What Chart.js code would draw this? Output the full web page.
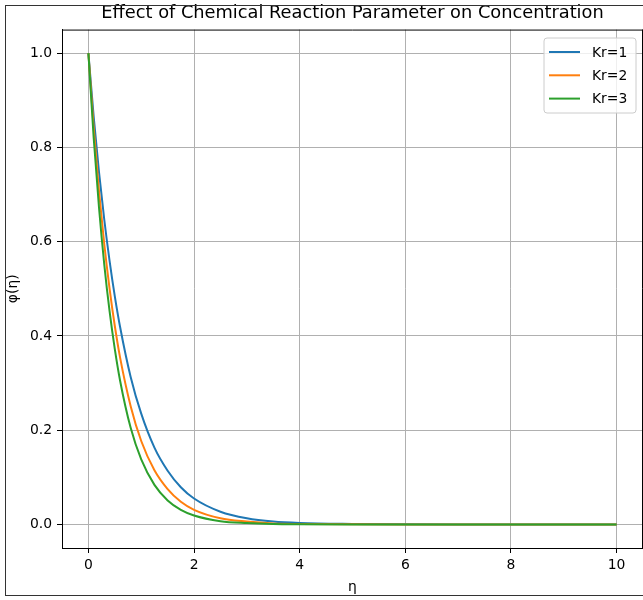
<!DOCTYPE html>
<html>
<head>
<meta charset="utf-8">
<script src="https://cdn.jsdelivr.net/npm/chart.js@4.4.0/dist/chart.umd.min.js"></script>
<style>
  body { margin: 0; background: #fff; }
  canvas { display: block; }
</style>
</head>
<body>
<canvas id="chart" width="643" height="600"></canvas>
<script>
// values
var etaValues = [0, 0.1, 0.2, 0.3, 0.4, 0.5, 0.6, 0.8, 1.0, 1.25, 1.5, 1.75, 2, 2.5, 3, 3.5, 4, 5, 6, 7, 8, 9, 10];
var phiKr1 = [1.0, 0.865, 0.748, 0.647, 0.560, 0.484, 0.419, 0.313, 0.235, 0.163, 0.114, 0.079, 0.055, 0.027, 0.013, 0.006, 0.003, 0.001, 0.0002, 0, 0, 0, 0];
var phiKr2 = [1.0, 0.841, 0.708, 0.595, 0.501, 0.421, 0.354, 0.251, 0.177, 0.115, 0.075, 0.048, 0.031, 0.013, 0.006, 0.002, 0.001, 0.0002, 0, 0, 0, 0, 0];
var phiKr3 = [1.0, 0.820, 0.673, 0.552, 0.453, 0.372, 0.305, 0.205, 0.138, 0.084, 0.051, 0.031, 0.019, 0.007, 0.003, 0.001, 0.0004, 0, 0, 0, 0, 0, 0];
var seriesLabels = ['Kr=1', 'Kr=2', 'Kr=3'];
var seriesColors = ['#1f77b4', '#ff7f0e', '#2ca02c'];
var xTicks = [0, 2, 4, 6, 8, 10];
var yTicks = [0, 0.2, 0.4, 0.6, 0.8, 1.0];

var FONT = "'DejaVu Sans', sans-serif";

function toPoints(ys) {
    return etaValues.map(function(x, i) { return {x: x, y: ys[i]}; });
}

var allSeries = [phiKr1, phiKr2, phiKr3];
var datasets = allSeries.map(function(ys, i) {
    return {
        label: seriesLabels[i],
        data: toPoints(ys),
        borderColor: seriesColors[i],
        backgroundColor: seriesColors[i],
        borderWidth: 2,
        pointRadius: 0,
        fill: false,
        cubicInterpolationMode: 'monotone',
        order: 3 - i
    };
});

// white background, frame round the figure, top/right spines and legend box
var decorations = {
    id: 'decorations',
    beforeDraw: function(chart) {
        var ctx = chart.ctx;
        ctx.save();
        ctx.fillStyle = '#fff';
        ctx.fillRect(0, 0, chart.width, chart.height);
        ctx.restore();
    },
    afterDraw: function(chart) {
        var ctx = chart.ctx;
        var a = chart.chartArea;
        ctx.save();
        // spines
        ctx.strokeStyle = '#000';
        ctx.lineWidth = 1;
        ctx.beginPath();
        ctx.moveTo(a.left, a.top + 0.5);
        ctx.lineTo(a.right, a.top + 0.5);
        ctx.moveTo(a.right - 0.5, a.top);
        ctx.lineTo(a.right - 0.5, a.bottom);
        ctx.stroke();

        // figure frame
        ctx.strokeStyle = '#333';
        ctx.strokeRect(5.5, 5.5, 700, 590);

        // legend
        var bx = 544, by = 38, bw = 92, bh = 75, r = 3;
        ctx.beginPath();
        ctx.moveTo(bx + r, by);
        ctx.lineTo(bx + bw - r, by);
        ctx.quadraticCurveTo(bx + bw, by, bx + bw, by + r);
        ctx.lineTo(bx + bw, by + bh - r);
        ctx.quadraticCurveTo(bx + bw, by + bh, bx + bw - r, by + bh);
        ctx.lineTo(bx + r, by + bh);
        ctx.quadraticCurveTo(bx, by + bh, bx, by + bh - r);
        ctx.lineTo(bx, by + r);
        ctx.quadraticCurveTo(bx, by, bx + r, by);
        ctx.closePath();
        ctx.fillStyle = 'rgba(255,255,255,0.8)';
        ctx.fill();
        ctx.strokeStyle = '#cccccc';
        ctx.lineWidth = 1;
        ctx.stroke();

        ctx.font = '13.9px ' + FONT;
        ctx.textBaseline = 'middle';
        ctx.textAlign = 'left';
        chart.data.datasets.forEach(function(ds, i) {
            var y = 52 + i * 23.3;
            ctx.strokeStyle = ds.borderColor;
            ctx.lineWidth = 2;
            ctx.beginPath();
            ctx.moveTo(549, y);
            ctx.lineTo(580, y);
            ctx.stroke();
            ctx.fillStyle = '#000';
            ctx.fillText(ds.label, 592, y + 1);
        });
        ctx.restore();
    }
};

var chart = new Chart(document.getElementById('chart'), {
    type: 'line',
    data: { datasets: datasets },
    options: {
        responsive: false,
        animation: false,
        layout: { padding: 0 },
        plugins: {
            legend: { display: false },
            tooltip: { enabled: false },
            title: {
                display: true,
                fullSize: false,
                text: 'Effect of Chemical Reaction Parameter on Concentration',
                color: '#000',
                font: { family: FONT, size: 17.8, weight: 'normal', lineHeight: 1.1 },
                padding: { top: 4, bottom: 6 }
            }
        },
        scales: {
            x: {
                type: 'linear',
                min: -0.5,
                max: 10.5,
                afterBuildTicks: function(scale) {
                    scale.ticks = xTicks.map(function(v) { return {value: v}; });
                },
                afterFit: function(scale) { scale.height = 52; },
                ticks: {
                    color: '#000',
                    font: { family: FONT, size: 13.9 },
                    padding: 4,
                    maxRotation: 0,
                    callback: function(v) { return String(v); }
                },
                grid: { color: '#b0b0b0', lineWidth: 1, tickColor: '#000', tickLength: 5 },
                border: { display: true, color: '#000', width: 1 },
                title: {
                    display: true,
                    text: 'η',
                    color: '#000',
                    font: { family: FONT, size: 13.9 },
                    padding: { top: 0, bottom: 4 }
                }
            },
            y: {
                type: 'linear',
                min: -0.05,
                max: 1.05,
                afterBuildTicks: function(scale) {
                    scale.ticks = yTicks.map(function(v) { return {value: v}; });
                },
                afterFit: function(scale) { scale.width = 62; },
                ticks: {
                    color: '#000',
                    font: { family: FONT, size: 13.9 },
                    padding: 5,
                    callback: function(v) { return v.toFixed(1); }
                },
                grid: { color: '#b0b0b0', lineWidth: 1, tickColor: '#000', tickLength: 5 },
                border: { display: true, color: '#000', width: 1 },
                title: {
                    display: true,
                    text: 'φ(η)',
                    color: '#000',
                    font: { family: FONT, size: 13.9 },
                    padding: { top: 5, bottom: 0 }
                }
            }
        }
    },
    plugins: [decorations]
});
</script>
</body>
</html>
